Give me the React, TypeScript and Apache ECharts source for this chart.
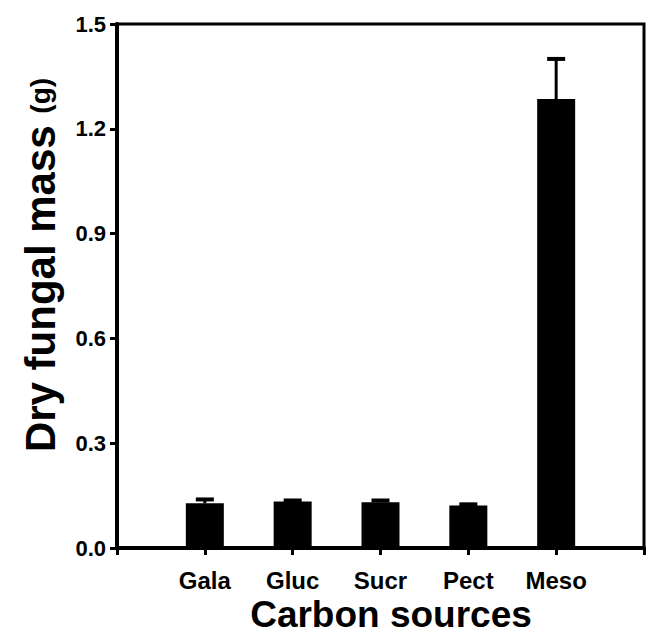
import React, { useEffect, useRef } from "react";
import * as echarts from "echarts";

const categories = ["Gala", "Gluc", "Sucr", "Pect", "Meso"];
const means = [0.128, 0.133, 0.131, 0.122, 1.285];
const errors = [0.011, 0.003, 0.005, 0.003, 0.115];
const yTicks = [0, 0.3, 0.6, 0.9, 1.2, 1.5];

const FONT = "Liberation Sans, Arial, sans-serif";

export default function App() {
  const ref = useRef<HTMLDivElement>(null);
  useEffect(() => {
    if (!ref.current) return;
    const chart = echarts.init(ref.current, undefined, { renderer: "svg" });
    const axisCats = ["", ...categories, ""];
    chart.setOption({
      animation: false,
      backgroundColor: "#fff",
      grid: {
        left: 117,
        right: 3,
        top: 24,
        bottom: 90,
        show: true,
        borderColor: "#000",
        borderWidth: 3,
        containLabel: false,
      },
      xAxis: {
        type: "category",
        data: axisCats,
        boundaryGap: false,
        axisLine: { show: true, lineStyle: { color: "#000", width: 4 } },
        axisTick: { show: true, length: 7, inside: false, lineStyle: { color: "#000", width: 3 } },
        axisLabel: {
          color: "#000",
          fontFamily: FONT,
          fontWeight: "bold",
          fontSize: 24,
          margin: 20,
          interval: 0,
        },
        splitLine: { show: false },
      },
      yAxis: {
        type: "value",
        min: yTicks[0],
        max: yTicks[yTicks.length - 1],
        interval: 0.3,
        axisLine: { show: true, lineStyle: { color: "#000", width: 4 } },
        axisTick: { show: true, length: 7, inside: false, lineStyle: { color: "#000", width: 3 } },
        axisLabel: {
          color: "#000",
          fontFamily: FONT,
          fontWeight: "bold",
          fontSize: 22,
          margin: 11,
          formatter: (v: number) => v.toFixed(1),
        },
        splitLine: { show: false },
      },
      graphic: [
        {
          type: "text",
          x: 40,
          y: 265,
          rotation: Math.PI / 2,
          style: {
            text: "{a|Dry fungal mass }{b|(g)}",
            align: "center",
            verticalAlign: "middle",
            fill: "#000",
            rich: {
              a: { fontFamily: FONT, fontWeight: "bold", fontSize: 42, fill: "#000" },
              b: { fontFamily: FONT, fontWeight: "bold", fontSize: 28, fill: "#000" },
            },
          },
        },
        {
          type: "text",
          x: 391,
          y: 614,
          style: {
            text: "Carbon sources",
            align: "center",
            verticalAlign: "middle",
            fill: "#000",
            fontFamily: FONT,
            fontWeight: "bold",
            fontSize: 37,
          },
        },
      ],
      series: [
        {
          type: "bar",
          data: means.map((v, i) => [i + 1, v]),
          barWidth: 38,
          itemStyle: { color: "#000" },
          z: 2,
        },
        {
          type: "custom",
          data: means.map((v, i) => [i + 1, v, errors[i]]),
          renderItem: (params: any, api: any) => {
            const x = api.value(0);
            const m = api.value(1);
            const e = api.value(2);
            const p0 = api.coord([x, m]);
            const p1 = api.coord([x, m + e]);
            const half = 9;
            return {
              type: "group",
              children: [
                {
                  type: "line",
                  shape: { x1: p0[0], y1: p0[1], x2: p1[0], y2: p1[1] },
                  style: { stroke: "#000", lineWidth: 3 },
                },
                {
                  type: "line",
                  shape: { x1: p1[0] - half, y1: p1[1], x2: p1[0] + half, y2: p1[1] },
                  style: { stroke: "#000", lineWidth: 4 },
                },
              ],
            };
          },
          z: 3,
        },
      ],
    });
    return () => chart.dispose();
  }, []);
  return (
    <div
      ref={ref}
      style={{ position: "fixed", left: 0, top: 0, width: 647, height: 638 }}
    />
  );
}
